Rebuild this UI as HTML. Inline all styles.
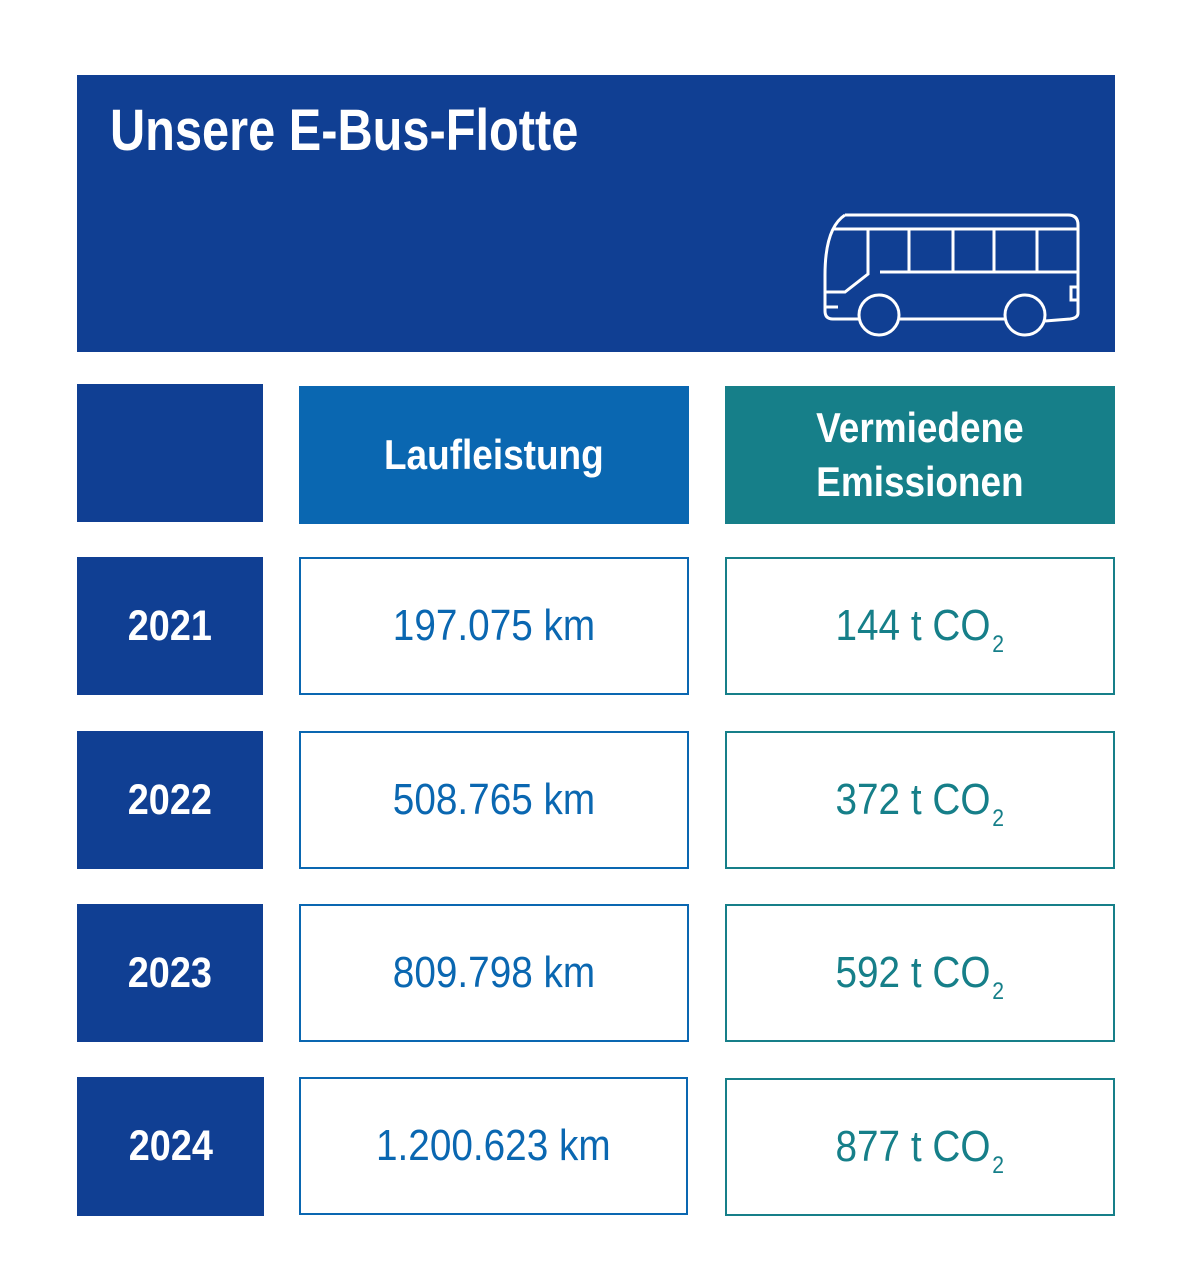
<!DOCTYPE html>
<html><head><meta charset="utf-8"><style>
body{margin:0;width:1204px;height:1280px;background:#fff;position:relative;font-family:"Liberation Sans",sans-serif;overflow:hidden}
.b{position:absolute;box-sizing:border-box;display:flex;align-items:center;justify-content:center;text-align:center}
.b span{display:inline-block;transform:scaleX(0.88);white-space:nowrap}
.d{background:#103f93;color:#fff;font-weight:bold;font-size:43px}
.c{border:2px solid #0a67b1;color:#0a67b1;font-size:44px}
.t{border:2px solid #167f89;color:#167f89;font-size:44px}
sub{font-size:24px;vertical-align:baseline;position:relative;top:12px;margin-left:2px;line-height:0}
</style></head><body>
<div style="position:absolute;left:77px;top:75px;width:1038px;height:277px;background:#103f93"></div>
<div style="position:absolute;left:110px;top:96px;color:#fff;font-weight:bold;font-size:58px;line-height:70px;transform:scaleX(0.84);transform-origin:0 0;white-space:nowrap">Unsere E-Bus-Flotte</div>
<svg style="position:absolute;left:0;top:0" width="1204" height="400" fill="none" stroke="#fff" stroke-width="3">
<path d="M845 215 H1068 Q1078 215 1078 225 V313 Q1078 318 1070 319 L1045 321 M1005 319 H900 M859 319 H833 Q825 319 825 311 V275 Q825 228 845 215"/>
<path d="M833 229 H1078 M880 272 H1078 M868 229 V274 L845 292 H825 M909 229 V272 M953 229 V272 M994 229 V272 M1037 229 V272 M825 307 H838 M1078 287 H1071 V300 H1078"/>
<circle cx="879" cy="315" r="20"/><circle cx="1025" cy="315" r="20"/>
</svg>
<div class="b d" style="left:77px;top:384px;width:186px;height:138px"></div>
<div class="b" style="left:299px;top:386px;width:390px;height:138px;background:#0a67b1;color:#fff;font-weight:bold;font-size:42px"><span>Laufleistung</span></div>
<div class="b" style="left:725px;top:386px;width:390px;height:138px;background:#167f89;color:#fff;font-weight:bold;font-size:42px;line-height:54px"><span>Vermiedene<br>Emissionen</span></div>

<div class="b d" style="left:77px;top:557px;width:186px;height:138px"><span>2021</span></div>
<div class="b c" style="left:299px;top:557px;width:390px;height:138px"><span>197.075 km</span></div>
<div class="b t" style="left:725px;top:557px;width:390px;height:138px"><span>144 t CO<sub>2</sub></span></div>

<div class="b d" style="left:77px;top:731px;width:186px;height:138px"><span>2022</span></div>
<div class="b c" style="left:299px;top:731px;width:390px;height:138px"><span>508.765 km</span></div>
<div class="b t" style="left:725px;top:731px;width:390px;height:138px"><span>372 t CO<sub>2</sub></span></div>

<div class="b d" style="left:77px;top:904px;width:186px;height:138px"><span>2023</span></div>
<div class="b c" style="left:299px;top:904px;width:390px;height:138px"><span>809.798 km</span></div>
<div class="b t" style="left:725px;top:904px;width:390px;height:138px"><span>592 t CO<sub>2</sub></span></div>

<div class="b d" style="left:77px;top:1077px;width:187px;height:139px"><span>2024</span></div>
<div class="b c" style="left:299px;top:1077px;width:389px;height:138px"><span>1.200.623 km</span></div>
<div class="b t" style="left:725px;top:1078px;width:390px;height:138px"><span>877 t CO<sub>2</sub></span></div>
</body></html>
